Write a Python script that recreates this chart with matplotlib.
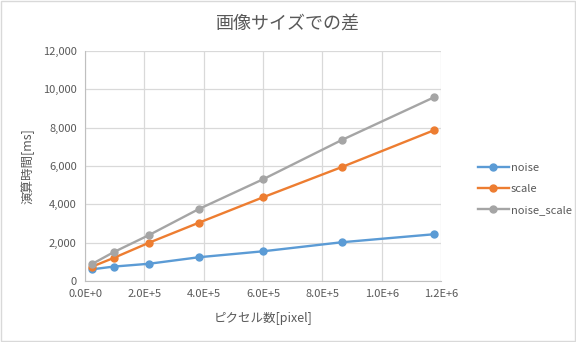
import matplotlib
matplotlib.use("Agg")
import matplotlib.pyplot as plt
from matplotlib.ticker import FuncFormatter, MultipleLocator

plt.rcParams['font.family'] = ['Noto Sans CJK JP', 'DejaVu Sans']

# 画素数 (一辺155px刻みの正方形画像)
pixels = [24025, 96100, 216225, 384400, 600625, 864900, 1177225]
noise = [610, 750, 900, 1240, 1550, 2020, 2440]
scale = [750, 1200, 2000, 3045, 4370, 5940, 7870]
noise_scale = [890, 1500, 2400, 3760, 5310, 7350, 9590]

series = [
    ("noise", noise, "#5B9BD5"),
    ("scale", scale, "#ED7D31"),
    ("noise_scale", noise_scale, "#A5A5A5"),
]

txt = "#595959"

fig = plt.figure(figsize=(5.76, 3.42), dpi=100)
fig.patches.append(plt.Rectangle((0.001, 0.002), 0.997, 0.995, transform=fig.transFigure,
                                 fill=False, edgecolor="#D9D9D9", linewidth=1))
ax = fig.add_axes([0.1476, 0.1784, 0.6180, 0.6725])

for name, vals, col in series:
    ax.plot(pixels, vals, color=col, linewidth=1.7, marker="o", markersize=5, label=name)

ax.set_xlim(0, 1.2e6)
ax.set_ylim(0, 12000)
ax.xaxis.set_major_locator(MultipleLocator(2e5))
ax.yaxis.set_major_locator(MultipleLocator(2000))


def sci(v, pos):
    if v == 0:
        return "0.0E+0"
    e = len(str(int(round(v)))) - 1
    return f"{v / 10 ** e:.1f}E+{e}"


ax.xaxis.set_major_formatter(FuncFormatter(sci))
ax.yaxis.set_major_formatter(FuncFormatter(lambda v, p: f"{int(v):,}"))

ax.grid(True, color="#D9D9D9", linewidth=0.9)
ax.set_axisbelow(True)
for s in ["top", "right"]:
    ax.spines[s].set_visible(False)
for s in ["left", "bottom"]:
    ax.spines[s].set_color("#BFBFBF")
ax.tick_params(length=0, labelsize=8, colors=txt, pad=6)

fig.text(0.5, 0.93, "画像サイズでの差", fontsize=13, color=txt, ha="center", va="center")
ax.set_xlabel("ピクセル数[pixel]", fontsize=9, color=txt, labelpad=9)
ax.set_ylabel("演算時間[ms]", fontsize=9, color=txt, labelpad=6)

leg = ax.legend(loc="center left", bbox_to_anchor=(1.075, 0.40), frameon=False,
                fontsize=8, handlelength=2.8, handletextpad=0.2, labelspacing=1.0)
for t in leg.get_texts():
    t.set_color(txt)

fig.savefig("out.png", dpi=100)
